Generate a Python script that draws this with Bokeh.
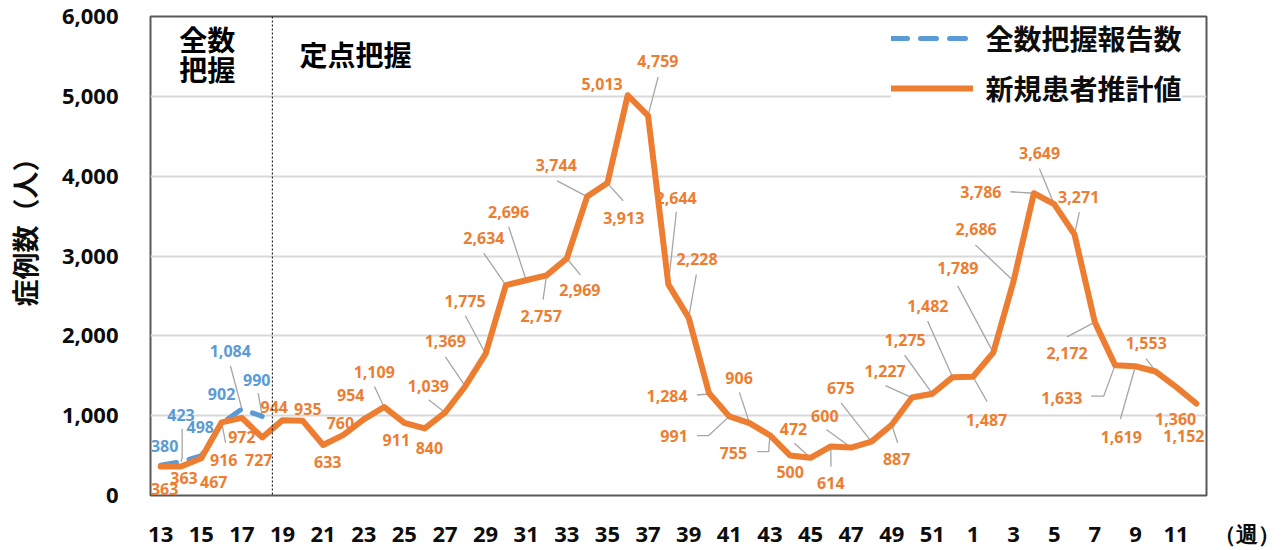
from bokeh.plotting import figure
from bokeh.models import (Range1d, FixedTicker, NumeralTickFormatter, Span, Label,
                          Legend, LegendItem)
from bokeh.embed import file_html
from bokeh.resources import INLINE
from bokeh.core.properties import value

# ---------------- data ----------------
weeks = [13, 14, 15, 16, 17, 18, 19, 20, 21, 22, 23, 24, 25, 26, 27, 28, 29, 30,
         31, 32, 33, 34, 35, 36, 37, 38, 39, 40, 41, 42, 43, 44, 45, 46, 47, 48,
         49, 50, 51, 52, 1, 2, 3, 4, 5, 6, 7, 8, 9, 10, 11, 12]
estimated = [363, 363, 467, 916, 972, 727, 944, 935, 633, 760,
             954, 1109, 911, 840, 1039, 1369, 1775, 2634, 2696, 2757,
             2969, 3744, 3913, 5013, 4759, 2644, 2228, 1284, 991, 906,
             755, 500, 472, 614, 600, 675, 887, 1227, 1275, 1482,
             1487, 1789, 2686, 3786, 3649, 3271, 2172, 1633, 1619, 1553,
             1360, 1152]
reported_weeks = [13, 14, 15, 16, 17, 18]
reported = [380, 423, 498, 902, 1084, 990]
tick_weeks = [13, 15, 17, 19, 21, 23, 25, 27, 29, 31, 33, 35, 37, 39, 41, 43,
              45, 47, 49, 51, 1, 3, 5, 7, 9, 11]
y_ticks = [0, 1000, 2000, 3000, 4000, 5000, 6000]
series_names = ["全数把握報告数", "新規患者推計値"]
y_title = "症例数（人）"
x_unit = "（週）"
period_labels = ["全数", "把握", "定点把握"]

# ---------------- style / label placement (pixel offsets) ----------------
ORANGE = "#ED7D31"
BLUE = "#5B9BD5"
LEADER = "#A6A6A6"

est_off = [(4, 22.5), (3, 12), (12.5, 24), (2.2, 38), (0, 19.4), (-3.4, 23),
           (-8.3, -12.9), (5, -12), (4.6, 17), (-3, -12), (-13, -24.7),
           (-9.8, -35.6), (-8, 17.8), (4.7, 19.4), (-16.6, -26.8), (-20, -45.5),
           (-20.4, -53.3), (-22, -47.3), (-17.6, -68.9), (-5.3, 41.1), (13.1, 31.5),
           (-30.9, -31.6), (16.3, 35.1), (-25.6, -11), (9.9, -54.5), (7.8, -87.1),
           (8.4, -59.1), (-41.9, 3), (-55.2, 19.9), (-10.5, -45.3), (-36.5, 17.5),
           (0, 17), (-17, -29.3), (0, 36.8), (-26.3, -32.3), (-30.6, -53.9),
           (4.9, 34.9), (-26.9, -27), (-27.2, -53.7), (-24.8, -71.4), (13.7, 43.4),
           (-35.4, -85.6), (-37.4, -52.1), (-53, -0.8), (-14.6, -51.2), (4.2, -37.4),
           (-27.7, 31.4), (-53.2, 32.8), (-14.2, 70.7), (-9.5, -28.7), (-0.4, 32.1),
           (-12.5, 32.3)]
rep_off = [(4, -19.5), (0, -46.6), (-1, -29), (0, -30), (-11.6, -58.6), (-5.4, -36.8)]

est_leaders = {
    3: [(4, 20.5)], 11: [(-9.6, -20.6)], 14: [(-16.3, -12.8)], 15: [(-19.9, -29.5)],
    16: [(-20.2, -38.3)], 17: [(-22.2, -32.3)], 18: [(-17.5, -53.9)], 19: [(-3.4, 24.4)],
    20: [(13.6, 16.5)], 21: [(-30, -15.9)], 22: [(15.7, 17.8)], 24: [(10.1, -38.8)],
    25: [(8, -73.1)], 26: [(7.7, -43.4)], 27: [(-11.9, 2), (-1, 1)],
    28: [(-32.2, 19.3), (-20.6, 19.3)], 29: [(-10.2, -31)],
    30: [(-12.8, 16.5), (-1.2, 16.5)], 32: [(-16.1, -14.6)], 33: [(0.2, 20.1)],
    34: [(-24.8, -18.3)], 35: [(-30.4, -38.9)], 36: [(5.9, 18.2)], 37: [(-26.7, -12)],
    38: [(-27.7, -38.7)], 39: [(-25, -56.4)], 40: [(14.1, 25)], 41: [(-35.6, -67.2)],
    42: [(-38.2, -36.4)], 43: [(-23.5, -1.5)], 44: [(-14.8, -35.8)], 45: [(4.9, -22.4)],
    46: [(-27.7, 14.8)], 47: [(-24, 31.2), (-11.4, 31.2)], 48: [(-15, 53.1)],
    49: [(-9.6, -13)],
}
rep_leaders = {1: [(1.2, -33.3), (1.2, -4)], 4: [(-11.4, -43.2)], 5: [(-4, -23.5)]}

# ---------------- geometry ----------------
W, H = 1284, 550
BL, BR, BT, BB = 150, 78, 16, 52
FW = W - BL - BR            # frame width (px)
FH = H - BT - BB            # frame height (px)
N = len(weeks)
SX = FW / N                 # px per category
SY = FH / 6000.0            # px per unit
FRAME_TOP = BT
FRAME_BOTTOM = BT + FH


def px_x(px):
    return (px - BL) / SX - 0.5


def px_y(py):
    return (FRAME_BOTTOM - py) / SY


p = figure(width=W, height=H, output_backend="svg", toolbar_location=None,
           x_range=Range1d(-0.5, N - 0.5), y_range=Range1d(0, 6000),
           min_border_left=BL, min_border_right=BR, min_border_top=BT,
           min_border_bottom=BB, background_fill_color="white",
           border_fill_color="white")
p.outline_line_color = "#595959"
p.outline_line_width = 2
p.xgrid.grid_line_color = None
p.ygrid.grid_line_color = "#D9D9D9"
p.ygrid.grid_line_width = 2

idx = list(range(N))
wk_pos = {w: i for i, w in enumerate(weeks)}
cjk = "Noto Sans CJK JP"

# y axis
p.yaxis.ticker = FixedTicker(ticks=y_ticks)
p.yaxis.formatter = NumeralTickFormatter(format="0,0")
p.yaxis.axis_line_color = None
p.yaxis.major_tick_line_color = None
p.yaxis.minor_tick_line_color = None
p.yaxis.major_tick_out = 0
p.yaxis.major_label_standoff = 32
p.yaxis.major_label_text_font = "Open Sans"
p.yaxis.major_label_text_font_size = "22px"
p.yaxis.major_label_text_font_style = "bold"
p.yaxis.major_label_text_color = "#0D0D0D"
# leading ideographic spaces nudge the (bottom-to-top) title upwards
p.yaxis.axis_label = "\u3000\u3000\u2005" + y_title
p.yaxis.axis_label_standoff = 15
p.yaxis.axis_label_text_font = cjk
p.yaxis.axis_label_text_font_size = "27px"
p.yaxis.axis_label_text_font_style = "bold"
p.yaxis.axis_label_text_color = "#0D0D0D"

# x axis: every other week labelled, plus the unit at the right end
tick_pos = [wk_pos[w] for w in tick_weeks]
unit_pos = N - 0.55
overrides = {i: str(weeks[i]) for i in tick_pos}
overrides[unit_pos] = "\u3000\u3000\u3000\u2002\u2005" + x_unit
p.xaxis.ticker = FixedTicker(ticks=tick_pos + [unit_pos])
p.xaxis.major_label_overrides = overrides
p.xaxis.axis_line_color = None
p.xaxis.major_tick_line_color = None
p.xaxis.minor_tick_line_color = None
p.xaxis.major_tick_out = 0
p.xaxis.major_label_standoff = 22
p.xaxis.major_label_text_font = "Open Sans"
p.xaxis.major_label_text_font_size = "22px"
p.xaxis.major_label_text_font_style = "bold"
p.xaxis.major_label_text_color = "#0D0D0D"

# data labels (drawn below the lines)
est_lx = [i + dx / SX for i, (dx, dy) in zip(idx, est_off)]
est_ly = [v - dy / SY for v, (dx, dy) in zip(estimated, est_off)]
p.text(x=est_lx, y=est_ly, text=[f"{v:,}" for v in estimated],
       text_font=value("Open Sans"), text_font_size="16px", text_font_style="bold",
       text_color=ORANGE, text_align="center", text_baseline="middle")
rep_idx = [wk_pos[w] for w in reported_weeks]
rep_lx = [i + dx / SX for i, (dx, dy) in zip(rep_idx, rep_off)]
rep_ly = [v - dy / SY for v, (dx, dy) in zip(reported, rep_off)]
p.text(x=rep_lx, y=rep_ly, text=[f"{v:,}" for v in reported],
       text_font=value("Open Sans"), text_font_size="16px", text_font_style="bold",
       text_color=BLUE, text_align="center", text_baseline="middle")

# leader lines
lxs, lys = [], []
for i, path in est_leaders.items():
    lxs.append([i + dx / SX for dx, dy in path] + [i])
    lys.append([estimated[i] - dy / SY for dx, dy in path] + [estimated[i]])
for k, path in rep_leaders.items():
    i = rep_idx[k]
    lxs.append([i + dx / SX for dx, dy in path] + [i])
    lys.append([reported[k] - dy / SY for dx, dy in path] + [reported[k]])
p.multi_line(lxs, lys, line_color=LEADER, line_width=1.3)

# series
r_rep = p.line(rep_idx, reported, line_color=BLUE, line_width=5, line_dash="16 13",
               line_cap="round", line_join="round")
r_est = p.line(idx, estimated, line_color=ORANGE, line_width=6, line_join="round",
               line_cap="round")

# separator between surveillance periods
p.add_layout(Span(location=5.5, dimension="height", line_color="#000000",
                  line_width=1, line_dash="2 2"))

# period annotations
for txt, (px, dy_top) in zip(period_labels, [(206.7, 22.5), (206.7, 53), (355, 38)]):
    p.add_layout(Label(x=px_x(px), y=px_y(FRAME_TOP + dy_top), text=txt,
                       text_font=cjk, text_font_size="28px", text_font_style="bold",
                       text_color="#000000", text_align="center", text_baseline="middle"))

# legend
pad, item_h, spacing = 6, 40, 10
legend = Legend(items=[LegendItem(label=series_names[0], renderers=[r_rep]),
                       LegendItem(label=series_names[1], renderers=[r_est])],
                location=(896.5 - pad - BL, FH - 95),
                glyph_width=82, glyph_height=item_h, label_height=item_h,
                label_standoff=13, spacing=spacing, padding=pad, margin=0,
                border_line_color=None, background_fill_color="white",
                background_fill_alpha=1.0, label_text_font=cjk,
                label_text_font_size="28px", label_text_font_style="bold",
                label_text_color="#0D0D0D")
p.add_layout(legend)

open("out.html", "w").write(file_html(p, INLINE))
